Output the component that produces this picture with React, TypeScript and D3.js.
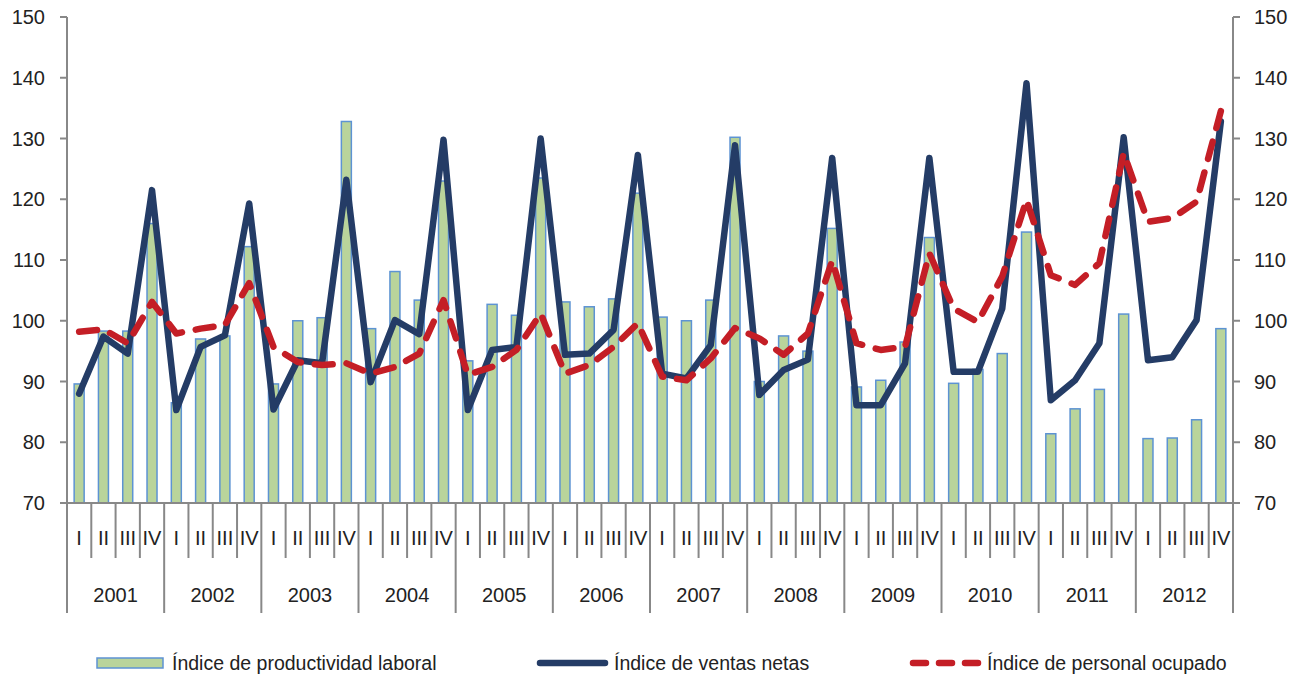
import React from "react";
import * as d3 from "d3";

const years = ["2001","2002","2003","2004","2005","2006","2007","2008","2009","2010","2011","2012"];
const quarters = ["I","II","III","IV"];
const yTicks = [70,80,90,100,110,120,130,140,150];

const productividad = [
  89.6,98.3,98.3,116,
  86.5,97.0,97.5,112.2,
  89.6,100.0,100.5,132.8,
  98.7,108.1,103.4,123,
  93.4,102.7,100.9,123.5,
  103.1,102.3,103.6,121,
  100.6,100.0,103.4,130.2,
  90,97.5,95,115.2,
  89.1,90.2,96.5,113.7,
  89.7,92,94.6,114.6,
  81.4,85.5,88.7,101.1,
  80.6,80.7,83.7,98.7,
];

const ventas = [
  88.0,97.4,94.6,121.5,
  85.3,95.7,97.6,119.3,
  85.4,93.5,93.0,123.2,
  89.9,100.1,97.8,129.8,
  85.3,95.2,95.7,130.0,
  94.4,94.6,98.5,127.3,
  91.3,90.5,96.0,128.9,
  87.8,91.9,93.6,126.8,
  86.1,86.1,93.0,126.8,
  91.6,91.6,102.0,139.1,
  86.9,90.2,96.3,130.2,
  93.5,94.0,100.1,132.8,
];

const personal = [
  98.2,98.6,96.3,103.1,
  97.9,98.7,99.3,106.2,
  95.7,93.2,92.7,93.0,
  91.3,92.4,94.6,103.4,
  91.1,92.4,95.2,101.2,
  91.3,92.7,95.7,99.6,
  90.8,90.2,93.8,98.8,
  97.1,94.4,97.9,109.9,
  96.3,95.2,95.7,111.1,
  102.0,99.8,107.3,119.9,
  107.5,105.9,109.5,127.6,
  116.3,116.9,119.6,134.5,
];

const legendLabels = ["Índice de productividad laboral","Índice de ventas netas","Índice de personal ocupado"];

const W = 1302, H = 679;
const L = 67, R = 1233, T = 17, B = 503;
const FONT = "'Liberation Sans', Arial, sans-serif";
const NAVY = "#243C66";
const RED = "#C41E26";
const AXIS = "#888888";
const TXT = "#222222";

export default function App() {
  const cats = years.flatMap((y) => quarters.map((q) => `${y}-${q}`));
  const x = d3.scaleBand<string>().domain(cats).range([L, R]).padding(0);
  const y = d3.scaleLinear().domain([70, 150]).range([B, T]);
  const bw = x.bandwidth();
  const barW = 10;
  const cx = (i: number) => (x(cats[i]) as number) + bw / 2;

  const line = d3.line<number>().x((_, i) => cx(i)).y((v) => y(v));

  return (
    <svg width={W} height={H} style={{ position: "absolute", left: 0, top: 0, background: "#fff" }} fontFamily={FONT}>
      {/* bars */}
      {productividad.map((v, i) => (
        <rect key={i} x={cx(i) - barW / 2} y={y(v)} width={barW} height={B - y(v)}
          fill="#B9D49B" stroke="#5D93D3" strokeWidth={1.5} />
      ))}
      {/* axes */}
      <line x1={L} x2={L} y1={T} y2={B} stroke={AXIS} strokeWidth={2} />
      <line x1={R} x2={R} y1={T} y2={B} stroke={AXIS} strokeWidth={2} />
      {yTicks.map((t) => (
        <g key={t}>
          <line x1={L - 7} x2={L} y1={y(t)} y2={y(t)} stroke={AXIS} strokeWidth={2} />
          <line x1={R} x2={R + 7} y1={y(t)} y2={y(t)} stroke={AXIS} strokeWidth={2} />
          <text x={45} y={y(t)} dy="0.35em" textAnchor="end" fontSize={20} fill={TXT}>{t}</text>
          <text x={1254} y={y(t)} dy="0.35em" textAnchor="start" fontSize={20} fill={TXT}>{t}</text>
        </g>
      ))}
      <line x1={L} x2={R} y1={B} y2={B} stroke={AXIS} strokeWidth={2} />
      {/* category separators */}
      {d3.range(cats.length + 1).map((i) => {
        const xx = i < cats.length ? (x(cats[i]) as number) : R;
        const isYear = i % 4 === 0;
        return <line key={i} x1={xx} x2={xx} y1={B} y2={isYear ? 613 : 558} stroke={AXIS} strokeWidth={2} />;
      })}
      {cats.map((c, i) => (
        <text key={c} x={cx(i)} y={545} textAnchor="middle" fontSize={20} fill={TXT}>{quarters[i % 4]}</text>
      ))}
      {years.map((yr, j) => (
        <text key={yr} x={(cx(j * 4) + cx(j * 4 + 3)) / 2} y={602} textAnchor="middle" fontSize={20} fill={TXT}>{yr}</text>
      ))}
      {/* lines */}
      <path d={line(ventas) as string} fill="none" stroke={NAVY} strokeWidth={6.5} strokeLinejoin="round" strokeLinecap="round" />
      <path d={line(personal) as string} fill="none" stroke={RED} strokeWidth={6.5} strokeDasharray="18 14" strokeLinejoin="round" strokeLinecap="round" />
      {/* legend */}
      <rect x={97} y={658} width={66} height={10} fill="#B9D49B" stroke="#5D93D3" strokeWidth={1.5} />
      <text x={172} y={670} fontSize={19.5} fill={TXT}>{legendLabels[0]}</text>
      <line x1={540} x2={605} y1={663} y2={663} stroke={NAVY} strokeWidth={6.5} strokeLinecap="round" />
      <text x={614} y={670} fontSize={19.5} fill={TXT}>{legendLabels[1]}</text>
      <line x1={913} x2={980} y1={663} y2={663} stroke={RED} strokeWidth={6.5} strokeDasharray="13 13" strokeLinecap="round" />
      <text x={987} y={670} fontSize={19.5} fill={TXT}>{legendLabels[2]}</text>
    </svg>
  );
}
